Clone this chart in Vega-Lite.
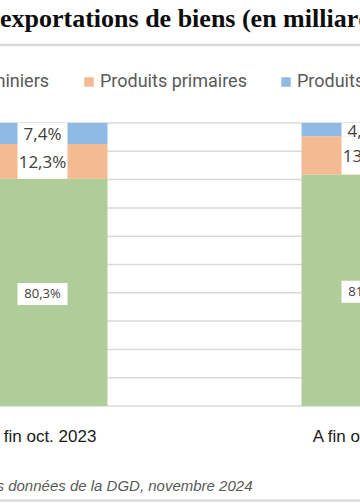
{
  "$schema": "https://vega.github.io/schema/vega-lite/v6.json",
  "width": 454,
  "height": 283,
  "autosize": {"type": "none"},
  "padding": {"left": -22.5, "right": -71.5, "top": 123, "bottom": 98},
  "background": "white",
  "title": {
    "text": "exportations de biens (en milliards de FCFA)",
    "anchor": "start",
    "frame": "group",
    "dx": 22.5,
    "font": "Liberation Serif",
    "fontSize": 26,
    "fontWeight": "bold",
    "color": "#0d0d0d",
    "baseline": "alphabetic",
    "offset": -8
  },
  "data": {
    "values": [
      {"period": "A fin oct. 2023", "category": "Produits miniers", "share": 0.803},
      {"period": "A fin oct. 2023", "category": "Produits primaires", "share": 0.123},
      {"period": "A fin oct. 2023", "category": "Produits manufacturés", "share": 0.074},
      {"period": "A fin oct. 2024", "category": "Produits miniers", "share": 0.818},
      {"period": "A fin oct. 2024", "category": "Produits primaires", "share": 0.135},
      {"period": "A fin oct. 2024", "category": "Produits manufacturés", "share": 0.047}
    ]
  },
  "transform": [
    {"stack": "share", "groupby": ["period"], "sort": [{"field": "share", "order": "descending"}], "as": ["s0", "s1"]},
    {"calculate": "(datum.s0 + datum.s1) / 2", "as": "mid"}
  ],
  "layer": [
    {
      "data": {
        "values": [
          {"tick": 0}, {"tick": 0.1}, {"tick": 0.2}, {"tick": 0.3}, {"tick": 0.4}, {"tick": 0.5},
          {"tick": 0.6}, {"tick": 0.7}, {"tick": 0.8}, {"tick": 0.9}, {"tick": 1}
        ]
      },
      "mark": {"type": "rule", "color": "#d9d9d9", "strokeWidth": 1.5},
      "encoding": {
        "y": {"field": "tick", "type": "quantitative", "axis": null}
      }
    },
    {
      "mark": {"type": "bar"},
      "encoding": {
        "x": {
          "field": "period", "type": "nominal", "sort": null,
          "scale": {"type": "band", "paddingInner": 0.5988, "paddingOuter": 0},
          "axis": {
            "orient": "bottom", "domain": false, "ticks": false, "tickSize": 0, "grid": false,
            "labelAngle": 0, "labelPadding": 35, "labelBaseline": "alphabetic",
            "labelFont": "Liberation Sans", "labelFontSize": 17, "labelColor": "#1a1a1a",
            "title": "Source : calculs à partir des données de la DGD, novembre 2024",
            "titleX": 274.5, "titleY": 84, "titleAlign": "right", "titleBaseline": "alphabetic",
            "titleFont": "Liberation Sans", "titleFontStyle": "italic", "titleFontWeight": "normal",
            "titleFontSize": 15, "titleColor": "#595959"
          }
        },
        "y": {
          "field": "s1", "type": "quantitative",
          "scale": {"domain": [0, 1], "nice": false, "zero": true},
          "axis": null
        },
        "y2": {"field": "s0"},
        "color": {
          "field": "category", "type": "nominal",
          "scale": {
            "domain": ["Produits miniers", "Produits primaires", "Produits manufacturés"],
            "range": ["#aecd98", "#f4bb92", "#8fbae3"]
          },
          "legend": {
            "orient": "none", "legendX": -79.5, "legendY": -50, "direction": "horizontal",
            "gridAlign": "none",
            "title": null, "padding": 0, "symbolType": "square", "symbolSize": 90,
            "symbolStrokeWidth": 0, "labelOffset": 2, "columnPadding": 30,
            "labelFont": "Roboto", "labelFontSize": 18, "labelColor": "#595959"
          }
        }
      }
    },
    {
      "transform": [{"filter": "datum.category !== 'Produits miniers'"}],
      "mark": {"type": "bar", "width": 50, "color": "white"},
      "encoding": {
        "x": {"field": "period", "type": "nominal", "sort": null, "axis": null},
        "y": {"field": "s1", "type": "quantitative", "axis": null},
        "y2": {"field": "s0"}
      }
    },
    {
      "transform": [{"filter": "datum.category === 'Produits miniers'"}],
      "mark": {"type": "point", "shape": "M-1,-0.44H1V0.44H-1Z", "filled": true, "color": "white", "opacity": 1, "size": 2500, "strokeWidth": 0, "yOffset": 1.5},
      "encoding": {
        "x": {"field": "period", "type": "nominal", "sort": null, "axis": null},
        "y": {"field": "mid", "type": "quantitative", "axis": null}
      }
    },
    {
      "mark": {"type": "text", "font": "Open Sans", "color": "#404040", "baseline": "middle", "align": "center", "dy": 2},
      "encoding": {
        "x": {"field": "period", "type": "nominal", "sort": null, "axis": null},
        "y": {"field": "mid", "type": "quantitative", "axis": null},
        "text": {"field": "share", "type": "quantitative", "format": ".1%"},
        "size": {"condition": {"test": "datum.category === 'Produits miniers'", "value": 13}, "value": 17}
      }
    },
    {
      "mark": {"type": "text", "text": ""},
      "encoding": {
        "x": {
          "field": "period", "type": "nominal", "sort": null,
          "axis": {"orient": "top", "offset": 78.5, "domain": true, "domainColor": "#d9d9d9", "domainWidth": 2.5, "labels": false, "ticks": false, "grid": false, "title": null}
        }
      }
    },
    {
      "mark": {"type": "text", "text": ""},
      "encoding": {
        "x": {
          "field": "period", "type": "nominal", "sort": null,
          "axis": {"orient": "bottom", "offset": 94, "domain": true, "domainColor": "#d9d9d9", "domainWidth": 2.5, "labels": false, "ticks": false, "grid": false, "title": null}
        }
      }
    }
  ],
  "resolve": {"axis": {"x": "independent"}},
  "config": {
    "view": {"stroke": null},
    "locale": {
      "number": {"decimal": ",", "thousands": " ", "grouping": [3], "currency": ["", " €"]}
    }
  }
}
